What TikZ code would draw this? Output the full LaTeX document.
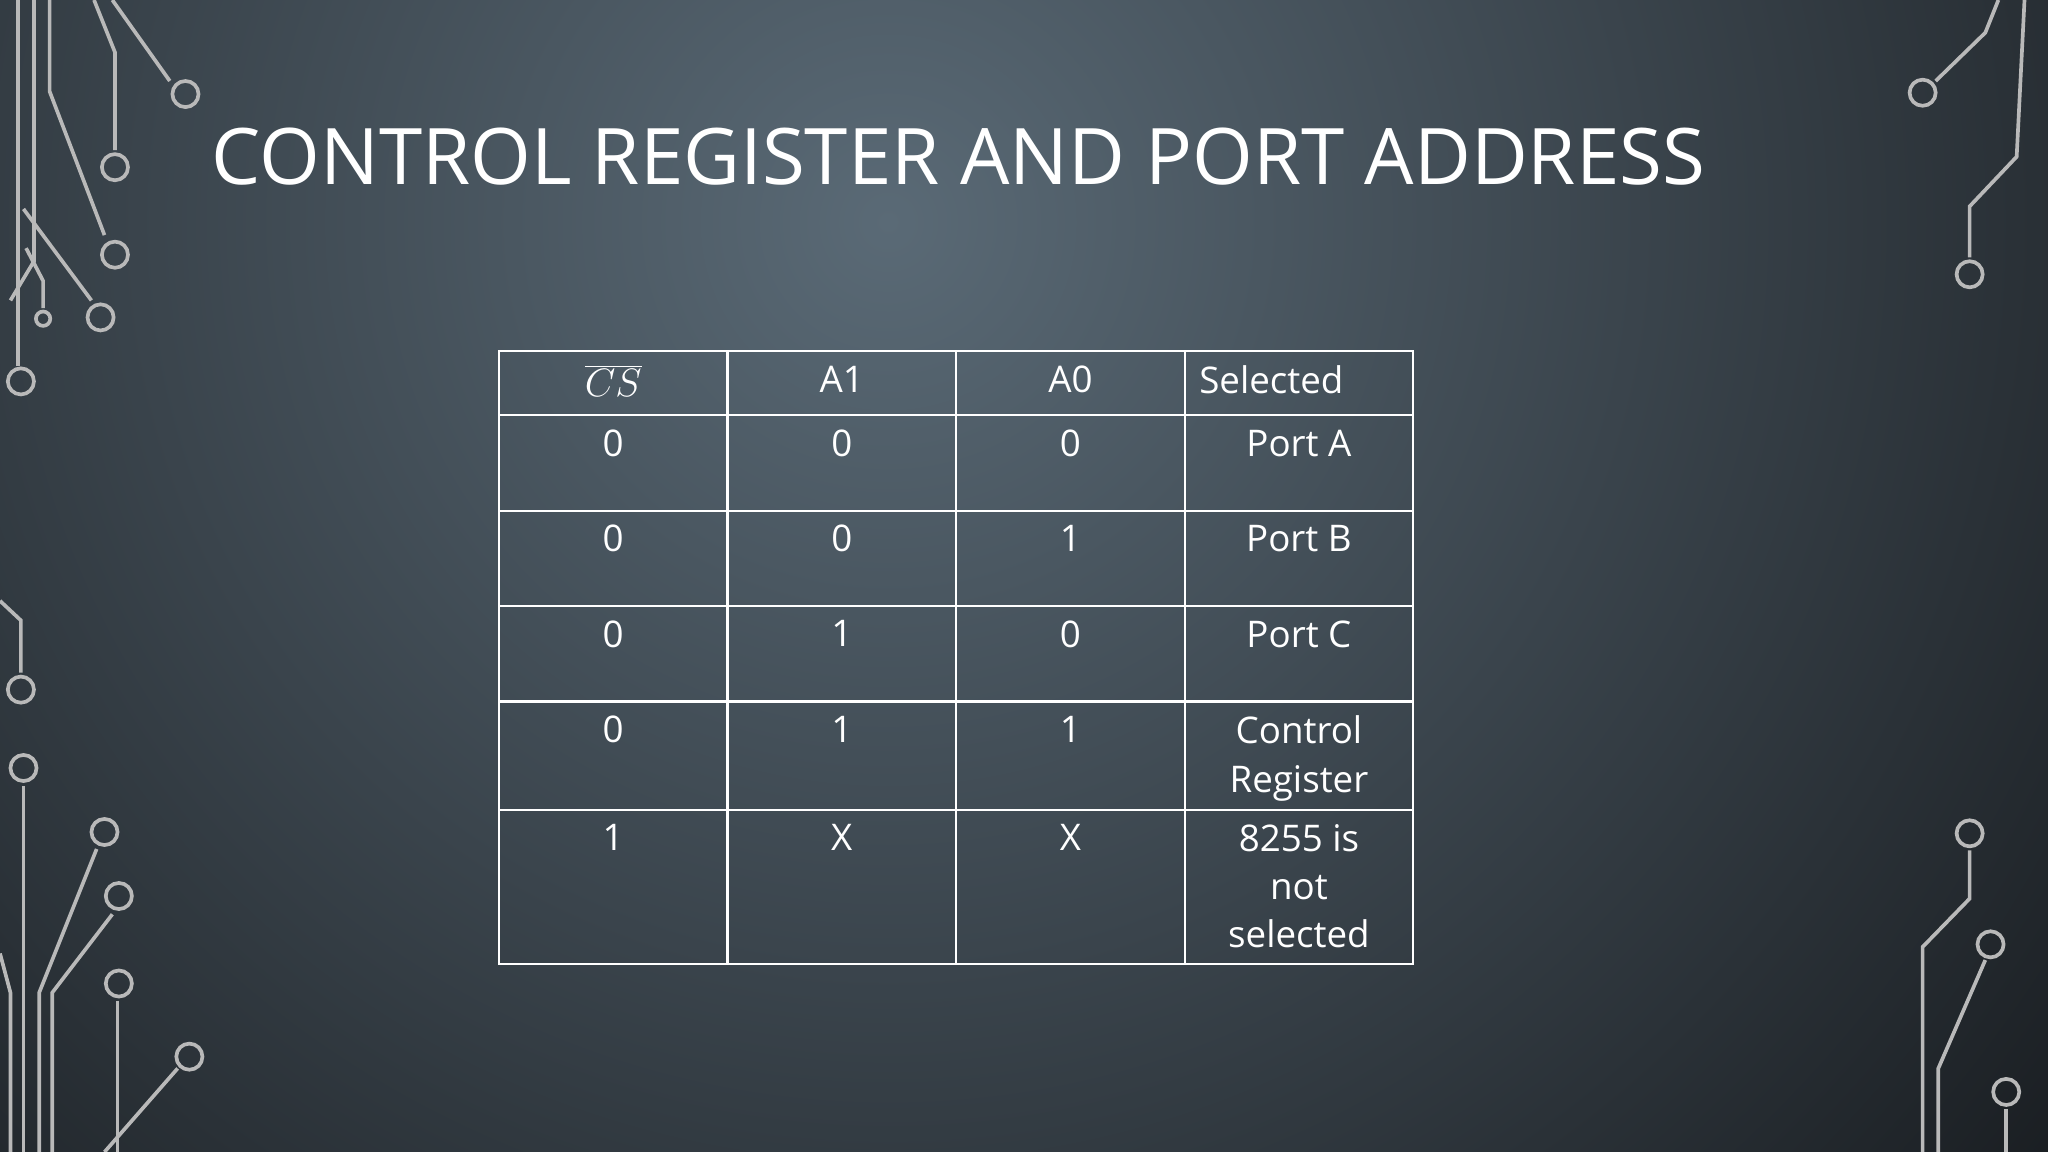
\documentclass[tikz,border=0pt]{standalone}
\usepackage{fontspec}
\setmainfont{Open Sans}
\begin{document}
\begin{tikzpicture}[x=0.02cm,y=-0.02cm,
  circ/.style={draw=gray!55!white,line width=1.6pt},
  pad/.style={circle,draw=gray!55!white,line width=1.6pt,minimum size=0.4cm,inner sep=0pt},
  cell/.style={anchor=north,text=white,font=\fontsize{16}{21}\selectfont,align=center}]
\definecolor{bgin}{HTML}{5A6A76}
\definecolor{bgout}{HTML}{1A1E22}
\fill[bgout] (0,0) rectangle (1568,882);
\begin{scope}
\clip (0,0) rectangle (1568,882);
\shade[inner color=bgin,outer color=bgout] (680,170) circle (1150);
\end{scope}
\useasboundingbox (0,0) rectangle (1568,882);
% circuit decorations left
\draw[circ] (14,0)--(14,280); \node[pad] (p1) at (16,292) {};
\draw[circ] (26,0)--(26,200)--(8,230);
\draw[circ] (38,0)--(38,70)--(80,180); \node[pad] (p2) at (88,195) {};
\draw[circ] (72,0)--(88,40)--(88,115); \node[pad] (p3) at (88,128) {};
\draw[circ] (86,0)--(130,62); \node[pad] (p4) at (142,72) {};
\draw[circ] (18,160)--(70,230); \node[pad] (p5) at (77,243) {};
\draw[circ] (20,190)--(33,215)--(33,236); \node[pad,minimum size=0.22cm] (p6) at (33,244) {};
\draw[circ] (0,460)--(16,475)--(16,515); \node[pad] (p7) at (16,528) {};
\draw[circ] (18,602)--(18,882); \node[pad] (p8) at (18,588) {};
\draw[circ] (30,882)--(30,760)--(74,650); \node[pad] (p9) at (80,637) {};
\draw[circ] (40,882)--(40,760)--(86,700); \node[pad] (p10) at (91,686) {};
\draw[circ] (90,766)--(90,882); \node[pad] (p11) at (91,753) {};
\draw[circ] (80,882)--(136,818); \node[pad] (p12) at (145,809) {};
\draw[circ] (0,730)--(8,760)--(8,882);
% right
\draw[circ] (1530,0)--(1520,25)--(1482,62); \node[pad] (q1) at (1472,71) {};
\draw[circ] (1550,0)--(1544,120)--(1508,158)--(1508,197); \node[pad] (q2) at (1508,210) {};
\draw[circ] (1508,651)--(1508,688)--(1472,725)--(1472,882); \node[pad] (q3) at (1508,638) {};
\draw[circ] (1520,735)--(1484,818)--(1484,882); \node[pad] (q4) at (1524,723) {};
\node[pad] (q5) at (1536,836) {};
\draw[circ] (1536,849)--(1536,882);
% title
\node[anchor=west,text=white,font=\fontsize{34}{40}\selectfont] (title) at (156,120) {CONTROL REGISTER AND PORT ADDRESS};
% table
\draw[white,line width=1pt] (382,269) rectangle (1082,738);
\foreach \x in {557,732,907} \draw[white,line width=1pt] (\x,269)--(\x,738);
\foreach \y in {318,391,464,537,620} \draw[white,line width=1pt] (382,\y)--(1082,\y);
\node[cell] (h1) at (469.5,273) {$\overline{CS}$};
\node[cell] (h2) at (644.5,274) {A1};
\node[cell] (h3) at (819.5,274) {A0};
\node[cell,anchor=north west] (h4) at (912,274) {Selected};
\foreach \y/\a/\b/\c in {323/0/0/0,396/0/0/1,469/0/1/0,542/0/1/1,625/1/X/X}{
  \node[cell] at (469.5,\y) {\a};
  \node[cell] at (644.5,\y) {\b};
  \node[cell] at (819.5,\y) {\c};}
\node[cell] (s1) at (994.5,323) {Port A};
\node[cell] (s2) at (994.5,396) {Port B};
\node[cell] (s3) at (994.5,469) {Port C};
\node[cell] (s4) at (994.5,542) {Control\\Register};
\node[cell] (s5) at (994.5,625) {8255 is\\not\\selected};
\end{tikzpicture}
\end{document}
